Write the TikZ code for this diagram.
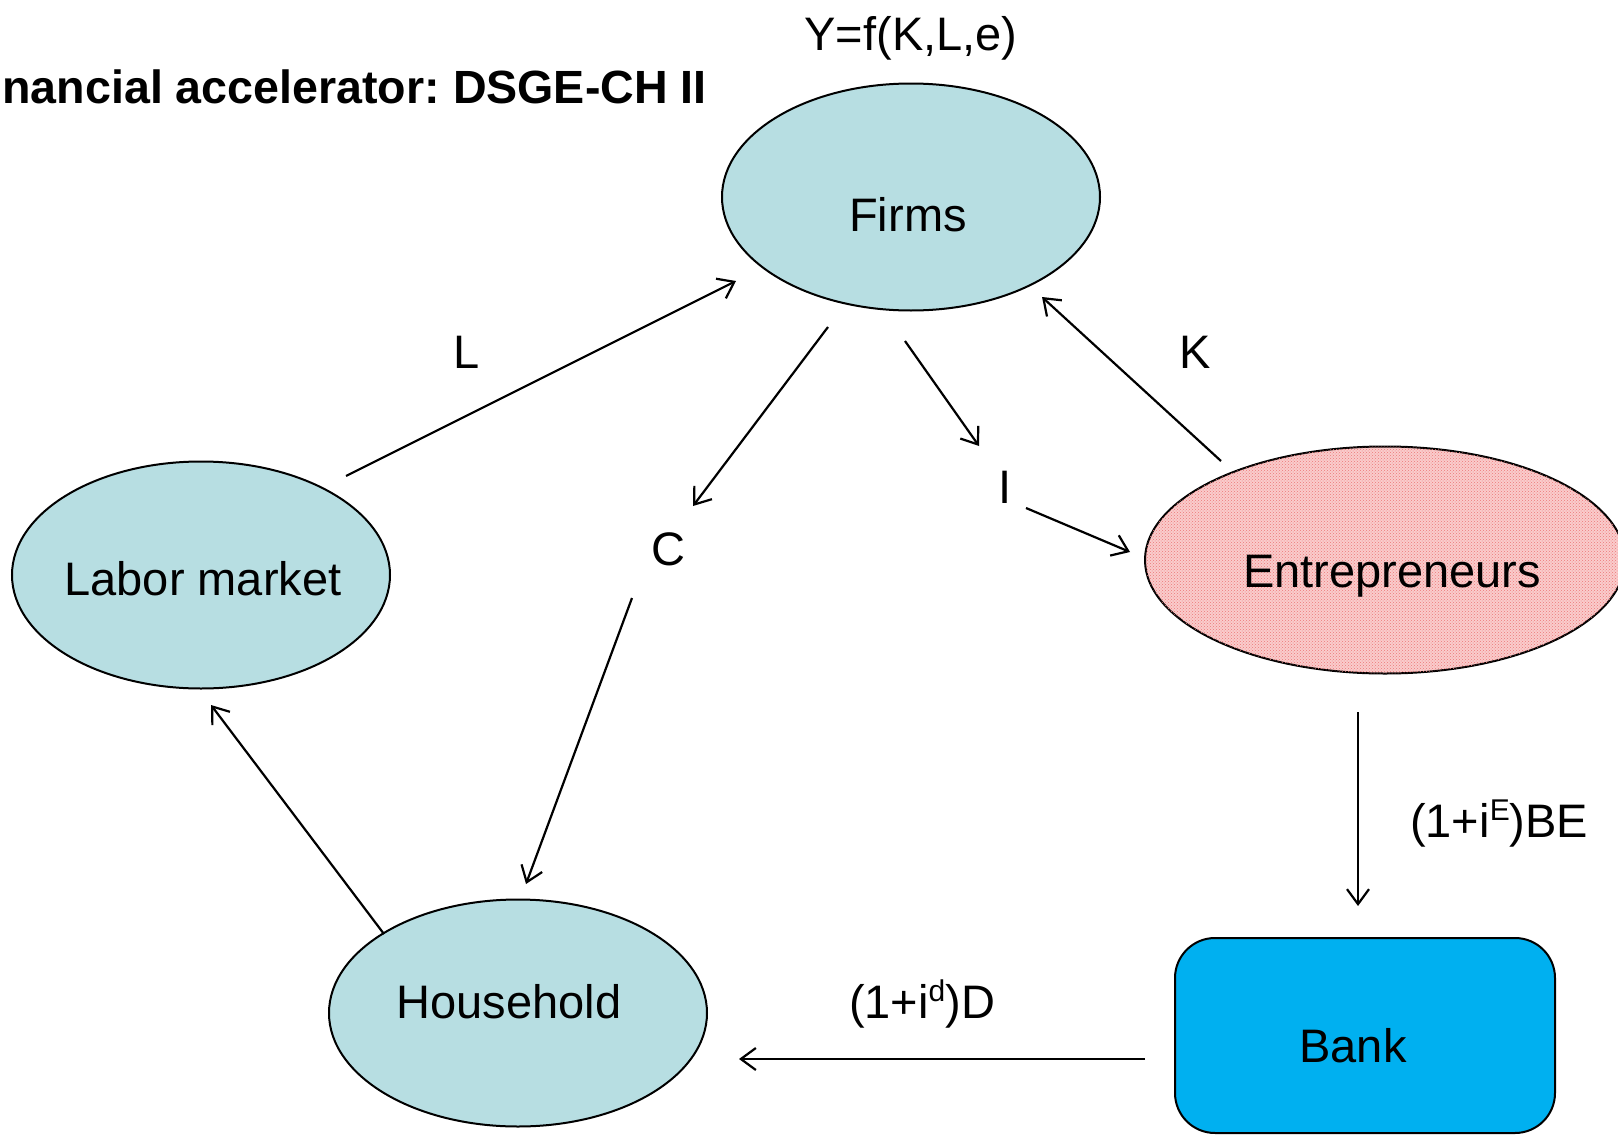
\documentclass[tikz,border=0pt]{standalone}
\usepackage{fontspec}
\setmainfont{Liberation Sans}
\usetikzlibrary{shapes.geometric,arrows.meta,patterns}
\frenchspacing

\definecolor{agent}{RGB}{183,222,226}
\definecolor{entfill}{RGB}{250,204,204}
\definecolor{entdots}{RGB}{236,120,120}
\definecolor{bankfill}{RGB}{0,176,240}

\tikzset{
  agent/.style={ellipse, draw=black, line width=2pt, fill=agent, inner sep=0pt,
                minimum width=378pt, minimum height=227pt},
  lbl/.style={anchor=base, inner sep=0pt, font=\fontsize{47}{56}\selectfont},
  flow/.style={line width=2.2pt, -{Straight Barb[length=15pt,width=22pt,line width=2.2pt]}},
}
\newcommand{\supx}[1]{\raisebox{0.36em}{\fontsize{30}{30}\selectfont #1}}

\begin{document}
\begin{tikzpicture}[x=1pt, y=-1pt]
  \useasboundingbox (0,0) rectangle (1618,1135);

  % sectors
  \node[agent] (firms) at (911,197) {};
  \node[agent] (labor) at (201,575) {};
  \node[agent] (house) at (518,1013) {};
  \node[ellipse, draw=black, line width=2pt, fill=entfill, inner sep=0pt,
        minimum width=480pt, minimum height=227pt,
        postaction={pattern=crosshatch dots, pattern color=entdots}] (entre) at (1385,560) {};
  \node[draw=black, line width=2pt, fill=bankfill, rounded corners=40pt,
        minimum width=380pt, minimum height=195pt, inner sep=0pt] (bank) at (1365,1035.5) {};

  % sector names
  \node[lbl] (firmst) at (908,231) {Firms};
  \node[lbl] (labort) at (203,595) {Labor market};
  \node[lbl] (houset) at (509,1018) {Household};
  \node[lbl] (entret) at (1392,587) {Entrepreneurs};
  \node[lbl] (bankt)  at (1353,1062) {Bank};

  % title and production function
  \node[anchor=base east, inner sep=0pt, font=\bfseries\fontsize{46.6}{56}\selectfont]
    (title) at (707,103) {nancial accelerator: DSGE-CH II};
  \node[lbl] (prod) at (911,50) {Y=f(K,L,e)};

  % flow labels
  \node[lbl] (Lt) at (467,368) {L};
  \node[lbl] (Kt) at (1195,368) {K};
  \node[lbl] (Ct) at (668,565) {C};
  \node[lbl] (It) at (1005,503) {I};
  \node[lbl, anchor=base west] (BEt) at (1410,837) {(1+i\supx{E})BE};
  \node[lbl] (Dt) at (922,1018) {(1+i\supx{d})D};

  % connector end points
  \coordinate (l0) at (346,476);  \coordinate (l1) at (736,281);
  \coordinate (c0) at (828,327);  \coordinate (c1) at (693,506);
  \coordinate (h0) at (632,598);  \coordinate (h1) at (526,884);
  \coordinate (i0) at (905,341);  \coordinate (i1) at (979,446);
  \coordinate (e0) at (1026,508); \coordinate (e1) at (1130,552);
  \coordinate (k0) at (1221,461); \coordinate (k1) at (1042,297);
  \coordinate (m0) at (384,934);  \coordinate (m1) at (211,705);
  \coordinate (b0) at (1358,712); \coordinate (b1) at (1358,906);
  \coordinate (d0) at (1145,1059);\coordinate (d1) at (739,1059);

  % flows
  \draw[flow] (l0) -- (l1);
  \draw[flow] (c0) -- (c1);
  \draw[flow] (h0) -- (h1);
  \draw[flow] (i0) -- (i1);
  \draw[flow] (e0) -- (e1);
  \draw[flow] (k0) -- (k1);
  \draw[flow] (m0) -- (m1);
  \draw[flow] (b0) -- (b1);
  \draw[flow] (d0) -- (d1);
\end{tikzpicture}
\end{document}
